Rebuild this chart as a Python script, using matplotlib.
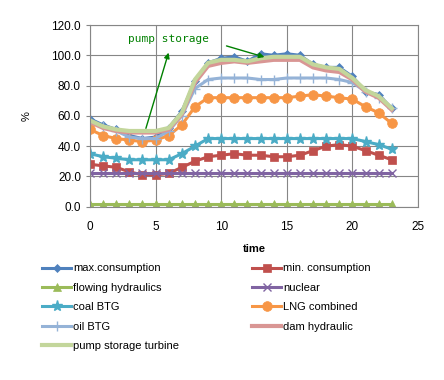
import numpy as np
import matplotlib
matplotlib.use("Agg")
import matplotlib.pyplot as plt

# === Data (hour of day, % of capacity) ===
hours = np.arange(24)
max_consumption = [58, 54, 51, 47, 45, 46, 52, 63, 83, 95, 98, 99, 96, 101, 100, 101, 100, 94, 92, 92, 86, 76, 74, 65]
min_consumption = [28, 27, 26, 23, 21, 21, 22, 26, 30, 33, 34, 35, 34, 34, 33, 33, 34, 37, 40, 41, 40, 37, 34, 31]
flowing_hydraulics = [2] * 24
nuclear = [22] * 24
coal_btg = [35, 33, 32, 31, 31, 31, 31, 35, 40, 45, 45, 45, 45, 45, 45, 45, 45, 45, 45, 45, 45, 43, 41, 38]
lng_combined = [51, 47, 45, 44, 43, 44, 47, 54, 66, 72, 72, 72, 72, 72, 72, 72, 73, 74, 73, 72, 71, 66, 62, 55]
oil_btg = [56, 53, 50, 46, 45, 45, 50, 60, 78, 84, 85, 85, 85, 84, 84, 85, 85, 85, 85, 84, 82, 76, 72, 65]
dam_hydraulic = [56, 52, 50, 49, 49, 49, 51, 61, 82, 93, 95, 96, 95, 96, 97, 97, 97, 92, 90, 89, 84, 76, 72, 64]
pump_storage = [57, 53, 51, 50, 50, 50, 52, 62, 84, 95, 97, 97, 96, 98, 99, 99, 99, 94, 92, 91, 85, 77, 73, 65]

# (label, values, colour, marker)
series = [
    ("max.consumption", max_consumption, "#4F81BD", "D"),
    ("min. consumption", min_consumption, "#C0504D", "s"),
    ("flowing hydraulics", flowing_hydraulics, "#9BBB59", "^"),
    ("nuclear", nuclear, "#8064A2", "x"),
    ("coal BTG", coal_btg, "#4BACC6", "*"),
    ("LNG combined", lng_combined, "#F79646", "o"),
    ("oil BTG", oil_btg, "#95B3D7", "+"),
    ("dam hydraulic", dam_hydraulic, "#D99694", None),
    ("pump storage turbine", pump_storage, "#C3D69B", None),
]

plt.rcParams['font.family'] = ['Liberation Sans', 'DejaVu Sans']
plt.rcParams['font.size'] = 8

fig = plt.figure(figsize=(4.44, 3.8), dpi=100)
ax = fig.add_axes([90 / 444, 1 - 206.7 / 380, 328 / 444, 181.7 / 380])

handles = []
for label, vals, color, marker in series:
    ms = {"D": 4.5, "s": 6, "^": 6, "x": 6, "*": 8, "o": 7, "+": 7}.get(marker, 0)
    lw = 3 if marker is None else 2.2
    h, = ax.plot(hours, vals, color=color, lw=lw, marker=marker, markersize=ms,
                 markeredgewidth=1 if marker in ("x", "+", "*") else 0.5,
                 markeredgecolor=color, label=label)
    handles.append(h)

# Annotations
ax.text(6.0, 111, "pump storage", color="green", fontsize=8,
        family="DejaVu Sans Mono", ha="center", va="center")
ax.annotate("", xy=(6.05, 103.5), xytext=(4.2, 50),
            arrowprops=dict(arrowstyle="-|>", color="green", lw=1, mutation_scale=8))
ax.annotate("", xy=(13.5, 98.3), xytext=(10.2, 106.7),
            arrowprops=dict(arrowstyle="-|>", color="green", lw=1, mutation_scale=8))

# Axes formatting
ax.set_xlim(0, 25)
ax.set_ylim(0, 120)
ax.set_xticks(range(0, 26, 5))
ax.set_yticks(range(0, 121, 20))
ax.set_yticklabels([f"{v:.1f}" for v in range(0, 121, 20)])
ax.grid(True, color="#868686", lw=0.8)
ax.set_axisbelow(True)
for s in ax.spines.values():
    s.set_color("#868686")
ax.tick_params(axis="x", length=0, pad=10, labelsize=8.5)
ax.tick_params(axis="y", length=3, color="#868686", labelsize=8.5)
ax.set_xlabel("time", fontweight="bold", fontsize=8, labelpad=8)
ax.set_ylabel("%", fontsize=8, labelpad=14)

# Legend: Excel fills row-wise, matplotlib column-wise
order = [0, 2, 4, 6, 8, 1, 3, 5, 7]
fig.legend([handles[i] for i in order], [series[i][0] for i in order],
           loc="upper left", bbox_to_anchor=(38 / 444, 1 - 259 / 380),
           ncol=2, frameon=False, fontsize=8, handlelength=2.6,
           handletextpad=0.15, columnspacing=6.6, labelspacing=0.85,
           borderaxespad=0)

fig.savefig("out.png", dpi=100)
